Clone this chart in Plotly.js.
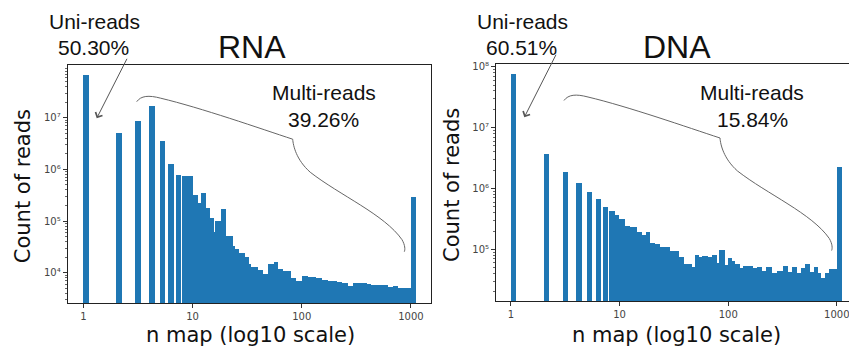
<!DOCTYPE html>
<html><head><meta charset="utf-8">
<script src="https://cdn.plot.ly/plotly-3.0.1.min.js"></script>
<style>html,body{margin:0;padding:0;background:#fff;} #chart{width:849px;height:348px;}</style>
</head><body><div id="chart"></div>
<script>
// ---------------- DATA ----------------
// Single-value bars: n map value and count of reads (last one = 1000+ bucket)
const rnaSingleN = [1, 2, 3, 4, 5, 6, 7, 8, 1000];
const rnaSingleCounts = [6.6e7, 5.0e6, 8.5e6, 1.68e7, 3.5e6, 1.29e6, 7.9e5, 7.3e5, 2.96e5];
// Binned region: bin edges (n map) and counts per bin
const rnaBinEdges = [8.98, 10.1, 11.2, 11.9, 13.4, 14.6, 15.7, 16.2, 18.4, 20.4, 23.5, 24.7, 26.7, 30.1, 32.7, 34.6, 39.8, 44.2, 49.1, 55.8, 60.7, 67.4, 79.3, 89.2, 99.6, 115, 134, 153, 175, 209, 232, 267, 297, 342, 394, 431, 621, 690, 766, 852, 1000];
const rnaBinCounts = [7.45e5, 3.19e5, 2.2e5, 3.53e5, 1.77e5, 1.16e5, 6.2e4, 1.0e5, 1.69e5, 5.2e4, 3.33e4, 2.88e4, 2.38e4, 2.04e4, 1.46e4, 1.31e4, 1.13e4, 9.3e3, 1.46e4, 1.59e4, 1.18e4, 1.08e4, 7.8e3, 6.9e3, 8.8e3, 8.4e3, 7.8e3, 7.2e3, 6.9e3, 6.5e3, 6.2e3, 5.6e3, 6.2e3, 6.2e3, 6.0e3, 5.8e3, 5.4e3, 5.5e3, 5.1e3, 5.1e3];

const dnaSingleN = [1, 2, 3, 4, 5, 6, 7, 8, 1000];
const dnaSingleCounts = [7.6e7, 3.7e6, 1.9e6, 1.22e6, 8.7e5, 6.6e5, 4.9e5, 4.2e5, 2.25e6];
const dnaBinEdges = [8.88, 9.94, 11.2, 12.5, 14.4, 16.0, 17.5, 19.1, 21.2, 23.6, 29.1, 35.5, 39.2, 46.1, 49.5, 53.9, 57.7, 65.6, 70.5, 78.4, 82.8, 93.4, 100, 109, 116, 128, 138, 170, 183, 204, 221, 252, 280, 322, 358, 384, 427, 468, 510, 567, 621, 667, 715, 779, 848, 1000];
const dnaBinCounts = [3.67e5, 3.12e5, 2.42e5, 2.31e5, 1.95e5, 1.72e5, 1.91e5, 1.29e5, 1.23e5, 1.11e5, 9.5e4, 7.4e4, 5.75e4, 5.08e4, 8.1e4, 7.4e4, 7.8e4, 7.4e4, 8.1e4, 6.05e4, 9.8e4, 5.5e4, 7.1e4, 6.5e4, 5.75e4, 4.9e4, 5.35e4, 4.9e4, 5.1e4, 4.47e4, 5.1e4, 4.05e4, 4.47e4, 5.35e4, 4.3e4, 5.2e4, 4.05e4, 4.9e4, 5.75e4, 4.3e4, 5.2e4, 4.05e4, 3.35e4, 4.05e4, 4.7e4];

const xTickVals = [1, 10, 100, 1000];
const xTickText = ['1', '10', '100', '1000'];
const rnaYTicks = [1e4, 1e5, 1e6, 1e7];
const rnaYTickText = ['10⁴', '10⁵', '10⁶', '10⁷'];
const dnaYTicks = [1e5, 1e6, 1e7, 1e8];
const dnaYTickText = ['10⁵', '10⁶', '10⁷', '10⁸'];

const rnaTitle = 'RNA', dnaTitle = 'DNA';
const rnaUni = '50.30%', rnaMulti = '39.26%';
const dnaUni = '60.51%', dnaMulti = '15.84%';

// ---------------- STYLE / LAYOUT ----------------
const W = 849, H = 348;
const BLUE = '#1f77b4';
const BAR_W = 0.05;            // width (in log10 units) of single-value bars
const SANS = 'Liberation Sans, Arial, Helvetica, sans-serif';
const DJ = 'DejaVu Sans, sans-serif';
const px = x => x / W;
const py = y => 1 - y / H;

function singleTrace(ns, counts, xa, ya) {
  return {type: 'bar', x: ns.map(n => Math.log10(n) + BAR_W / 2), y: counts,
    width: ns.map(() => BAR_W), marker: {color: BLUE, line: {width: 0}},
    xaxis: xa, yaxis: ya, hoverinfo: 'skip', showlegend: false};
}
function binTrace(edges, counts, xa, ya) {
  const xs = [], ws = [];
  for (let i = 0; i < counts.length; i++) {
    const l = Math.log10(edges[i]), r = Math.log10(edges[i + 1]);
    xs.push((l + r) / 2); ws.push(r - l);
  }
  return {type: 'bar', x: xs, y: counts, width: ws, marker: {color: BLUE, line: {width: 0}},
    xaxis: xa, yaxis: ya, hoverinfo: 'skip', showlegend: false};
}

function minorVals(lo, hi) {
  const v = [];
  for (let k = lo; k <= hi; k++) for (let m = 2; m <= 9; m++) v.push(m * Math.pow(10, k));
  return v;
}

const tickFont = {family: DJ, size: 10, color: '#444'};
function xAxis(domain, range, anchor) {
  return {domain, range, anchor, tickmode: 'array', tickvals: xTickVals.map(Math.log10), ticktext: xTickText,
    ticks: 'outside', ticklen: 4, tickwidth: 1, tickcolor: '#333', showline: true, linecolor: '#222', linewidth: 1,
    mirror: true, showgrid: false, zeroline: false, tickfont: tickFont, fixedrange: true, ticklabeloverflow: 'allow'};
}
function yAxis(domain, range, anchor, ticks, tickText, mirror) {
  return {type: 'log', domain, range, anchor, tickmode: 'array', tickvals: ticks, ticktext: tickText,
    ticks: 'outside', ticklen: 4, tickwidth: 1, tickcolor: '#333', showline: true, linecolor: '#222', linewidth: 1,
    mirror, showgrid: false, zeroline: false, tickfont: tickFont, fixedrange: true,
    minor: {tickmode: 'array', tickvals: minorVals(3, 8), ticks: 'outside', ticklen: 2, tickwidth: 0.8, tickcolor: '#444', showgrid: false}};
}

const data = [
  singleTrace(rnaSingleN, rnaSingleCounts, 'x', 'y'),
  binTrace(rnaBinEdges, rnaBinCounts, 'x', 'y'),
  singleTrace(dnaSingleN, dnaSingleCounts, 'x2', 'y2'),
  binTrace(dnaBinEdges, dnaBinCounts, 'x2', 'y2')
];

function txt(text, x, y, size, family, extra) {
  return Object.assign({text, x: px(x), y: py(y), xref: 'paper', yref: 'paper', showarrow: false,
    xanchor: 'center', yanchor: 'middle', font: {family, size, color: '#111'}}, extra || {});
}
function arrow(tx, ty, hx, hy) {
  return {text: '', x: px(hx), y: py(hy), xref: 'paper', yref: 'paper', showarrow: true,
    ax: tx - hx, ay: ty - hy, axref: 'pixel', ayref: 'pixel',
    arrowhead: 4, arrowsize: 1.5, arrowwidth: 1, arrowcolor: '#555', standoff: 0, startstandoff: 0};
}
// curly brace path defined relative to its start point, in pixels
function brace(x0, y0) {
  const pts = [
    ['M', [0, 0]],
    ['C', [4.3, -6], [12, -6.7], [24, -3.5]],
    ['C', [64, 6], [124, 27], [156, 37.5]],
    ['C', [156.5, 44], [159.5, 58], [173.5, 70.5]],
    ['C', [203, 93.5], [248, 113], [265.3, 138]],
    ['C', [268.5, 143.5], [268.5, 148], [267.6, 150]]
  ];
  return pts.map(seg => seg[0] + ' ' + seg.slice(1).map(p => px(x0 + p[0]).toFixed(5) + ',' + py(y0 + p[1]).toFixed(5)).join(' ')).join(' ');
}

const annotations = [
  txt(rnaTitle, 251.5, 47.5, 32, SANS),
  txt(dnaTitle, 677, 47.5, 32, SANS),
  txt('Uni-reads', 94.3, 21.5, 21, SANS),
  txt(rnaUni, 93.8, 47, 21, SANS),
  txt('Multi-reads', 324, 92, 21, SANS),
  txt(rnaMulti, 323.7, 119, 21, SANS),
  txt('Uni-reads', 522, 21.5, 21, SANS),
  txt(dnaUni, 521.3, 47, 21, SANS),
  txt('Multi-reads', 752, 92, 21, SANS),
  txt(dnaMulti, 752, 119, 21, SANS),
  txt('Count of reads', 22.7, 186.5, 21, DJ, {textangle: -90}),
  txt('Count of reads', 452, 185, 21, DJ, {textangle: -90}),
  txt('n map (log10 scale)', 250.5, 335, 21, DJ),
  txt('n map (log10 scale)', 676.8, 335, 21, DJ),
  arrow(127.7, 57.3, 96.7, 118.3),
  arrow(556.7, 53.3, 524.3, 117.3)
];

const shapes = [
  {type: 'path', xref: 'paper', yref: 'paper', path: brace(136.7, 101.7), line: {color: '#666', width: 1}},
  {type: 'path', xref: 'paper', yref: 'paper', path: brace(564, 100.5), line: {color: '#666', width: 1}}
];

const layout = {
  width: W, height: H, margin: {l: 0, r: 0, t: 0, b: 0}, paper_bgcolor: '#fff', plot_bgcolor: '#fff',
  barmode: 'overlay', bargap: 0, bargroupgap: 0, showlegend: false,
  xaxis: xAxis([67.7 / W, 431 / W], [-0.143, 3.184], 'y'),
  yaxis: yAxis([1 - 303 / H, 1 - 65 / H], [3.414, 8.02], 'x', rnaYTicks, rnaYTickText, true),
  xaxis2: xAxis([496 / W, 1], [-0.138, 3.112], 'y2'),
  yaxis2: yAxis([1 - 301 / H, 1 - 64.3 / H], [4.153, 8.039], 'x2', dnaYTicks, dnaYTickText, false),
  annotations, shapes
};

Plotly.newPlot('chart', data, layout, {staticPlot: true, displayModeBar: false});
</script></body></html>
